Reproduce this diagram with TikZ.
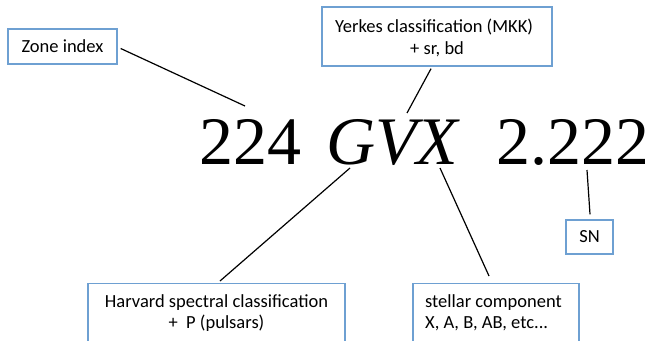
\documentclass[tikz,border=0pt]{standalone}
\usepackage{fontspec}
\setmainfont{Liberation Serif}
\newfontfamily\boxfont{Carlito}
\begin{document}
\begin{tikzpicture}[x=1pt,y=-1pt,
  boxline/.style={draw={rgb,255:red,110;green,160;blue,210}, line width=1.4pt, fill=white, inner sep=0pt},
  boxtext/.style={font=\boxfont\fontsize{18.5}{21}\selectfont, inner sep=0pt},
  bigtext/.style={font=\fontsize{68}{70}\selectfont, inner sep=0pt, anchor=base west},
  conn/.style={draw=black, line width=1.2pt}]
\useasboundingbox (0,0) rectangle (645,340);
\clip (0,0) rectangle (645,340);
% big designation
\node[bigtext] (n224) at (199,164) {224};
\node[bigtext, inner xsep=6pt] (ngvx) at (320,164) {\itshape GVX\/};
\node[bigtext] (n2222) at (496,164) {2.222};
% boxes
\node[boxline, minimum width=109pt, minimum height=35pt] (zonebox) at (62.5,46.5) {};
\node[boxtext] (zonetext) at (zonebox.center) {Zone index};
\node[boxline, minimum width=230pt, minimum height=59pt] (yerkbox) at (437,36.5) {};
\node[boxtext, anchor=base west] (yerk1) at (335,32) {Yerkes classification (MKK)};
\node[boxtext, anchor=base west] (yerk2) at (410,54) {+ sr, bd};
\node[boxline, minimum width=257pt, minimum height=80pt, anchor=north] (harvbox) at (216.5,283) {};
\node[boxtext, anchor=base] (harv1) at (216.5,307) {Harvard spectral classification};
\node[boxtext, anchor=base] (harv2) at (216.5,328) {+\ \ P (pulsars)};
\node[boxline, minimum width=166pt, minimum height=80pt, anchor=north] (stelbox) at (496,283) {};
\node[boxtext, anchor=base west] (stel1) at (425,307) {stellar component};
\node[boxtext, anchor=base west] (stel2) at (425,328) {X, A, B, AB, etc...};
\node[boxline, minimum width=47pt, minimum height=34pt] (snbox) at (589.5,237) {};
\node[boxtext] (sntext) at (snbox.center) {SN};
% connector ends on the designation
\coordinate (e224) at (245,106);
\coordinate (eV) at (407,113);
\coordinate (eG) at (350,168);
\coordinate (eX) at (440,168);
\coordinate (e2) at (587,170);
% connectors
\draw[conn] ([xshift=3pt,yshift=-2pt]zonebox.east) -- (e224);
\draw[conn] ([xshift=-6pt,yshift=-2pt]yerkbox.south) -- (eV);
\draw[conn] ([xshift=3.5pt,yshift=2pt]harvbox.north) -- (eG);
\draw[conn] ([xshift=-7pt,yshift=7pt]stelbox.north) -- (eX);
\draw[conn] ([xshift=0.5pt,yshift=5pt]snbox.north) -- (e2);
\end{tikzpicture}
\end{document}
